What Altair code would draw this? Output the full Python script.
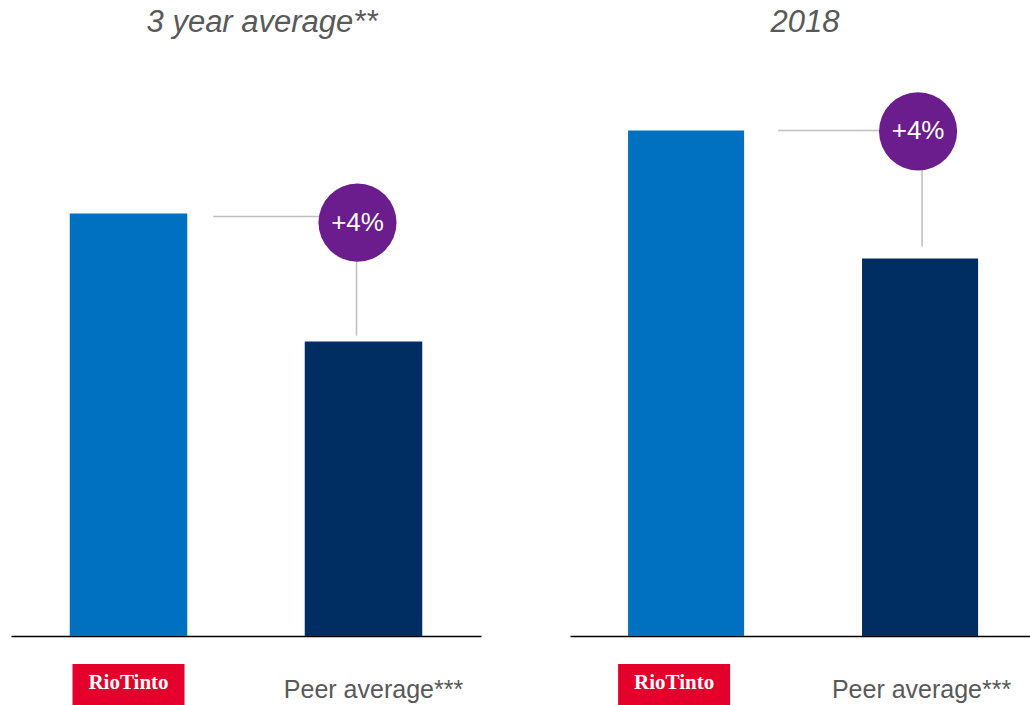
import altair as alt
import pandas as pd

# ---- data ----
panel_titles = ["3 year average**", "2018"]
categories = ["Rio Tinto", "Peer average***"]
rio_values = [13.2, 15.8]
peer_values = [9.2, 11.8]
delta_labels = ["+4%", "+4%"]

# ---- styling ----
RIO_BLUE = "#0070C0"
PEER_NAVY = "#002D62"
PURPLE = "#6B1D8E"
LOGO_RED = "#E4002B"
GREY_TEXT = "#595959"
CONNECTOR = "#BFBFBF"
FONT = "Liberation Sans"

H = 560
YMAX = 17.5

# per-panel layout tweaks (pixels)
widths = [470, 460]
band_pad_inner = [0.5, 0.504]
band_pad_outer = [0.25, 0.235]
band_align = [0.5, 0.528]
title_dx = [16, 5]
hline_dx = [26, 34]
hline_dy = [3, 0]
circle_dx = [-6, -2]
circle_dy = [9, 1]
vline_dx = [-7, 2]
vline_gap = [-6, -12]
logo_dx = [0, -12]
peer_label_dx = [10, 1.5]


def make_panel(i):
    w = widths[i]
    bars = pd.DataFrame({
        "cat": categories,
        "value": [rio_values[i], peer_values[i]],
    })
    ann = pd.DataFrame({
        "cat": [categories[0]],
        "cat2": [categories[1]],
        "peer": [categories[1]],
        "top": [rio_values[i]],
        "bottom": [peer_values[i]],
        "label": [delta_labels[i]],
    })
    labels = pd.DataFrame({"cat": categories, "label": ["RioTinto", categories[1]]})

    xscale = alt.Scale(domain=categories, paddingInner=band_pad_inner[i],
                       paddingOuter=band_pad_outer[i], align=band_align[i])
    yscale = alt.Scale(domain=[0, YMAX], nice=False, zero=True)
    xaxis = alt.Axis(labels=False, ticks=False, title=None, grid=False,
                     domainColor="black", domainWidth=1.5)

    bar_layer = alt.Chart(bars).mark_bar().encode(
        x=alt.X("cat:N", scale=xscale, axis=xaxis, sort=categories),
        y=alt.Y("value:Q", scale=yscale, axis=None),
        color=alt.Color("cat:N", scale=alt.Scale(domain=categories,
                                                  range=[RIO_BLUE, PEER_NAVY]),
                        legend=None),
    )

    hline = alt.Chart(ann).mark_rule(color=CONNECTOR, strokeWidth=1.5,
                                     xOffset=hline_dx[i],
                                     yOffset=hline_dy[i]).encode(
        x=alt.X("cat:N", scale=xscale, bandPosition=1, axis=xaxis),
        x2=alt.X2("cat2:N"),
        y=alt.Y("top:Q", scale=yscale, axis=None),
    )

    vline = alt.Chart(ann).mark_rule(color=CONNECTOR, strokeWidth=1.5,
                                     xOffset=vline_dx[i],
                                     y2Offset=vline_gap[i]).encode(
        x=alt.X("peer:N", scale=xscale, axis=xaxis),
        y=alt.Y("top:Q", scale=yscale, axis=None),
        y2=alt.Y2("bottom:Q"),
    )

    circle = alt.Chart(ann).mark_circle(size=6100, color=PURPLE, opacity=1,
                                        xOffset=circle_dx[i],
                                        yOffset=circle_dy[i]).encode(
        x=alt.X("peer:N", scale=xscale, axis=xaxis),
        y=alt.Y("top:Q", scale=yscale, axis=None),
    )

    circle_text = alt.Chart(ann).mark_text(color="white", fontSize=26, font=FONT,
                                           baseline="middle", align="center",
                                           dx=circle_dx[i],
                                           dy=circle_dy[i]).encode(
        x=alt.X("peer:N", scale=xscale, axis=xaxis),
        y=alt.Y("top:Q", scale=yscale, axis=None),
        text="label:N",
    )

    logo_box = alt.Chart(labels[labels.cat == categories[0]]).mark_bar(
        color=LOGO_RED, width=112, xOffset=logo_dx[i]).encode(
        x=alt.X("cat:N", scale=xscale, axis=xaxis),
        y=alt.value(H + 28),
        y2=alt.value(H + 69),
    )

    logo_text = alt.Chart(labels[labels.cat == categories[0]]).mark_text(
        color="white", font="Liberation Serif", fontSize=21, fontWeight="bold",
        align="center", baseline="alphabetic", dx=logo_dx[i]).encode(
        x=alt.X("cat:N", scale=xscale, axis=xaxis),
        y=alt.value(H + 53),
        text="label:N",
    )

    peer_text = alt.Chart(labels[labels.cat == categories[1]]).mark_text(
        color=GREY_TEXT, font=FONT, fontSize=25, align="center",
        baseline="alphabetic", dx=peer_label_dx[i]).encode(
        x=alt.X("cat:N", scale=xscale, axis=xaxis),
        y=alt.value(H + 62),
        text="label:N",
    )

    title = alt.Chart(pd.DataFrame({"t": [panel_titles[i]]})).mark_text(
        color=GREY_TEXT, font=FONT, fontSize=31, fontStyle="italic",
        align="center", baseline="alphabetic").encode(
        x=alt.value(w / 2 + title_dx[i]),
        y=alt.value(-44),
        text="t:N",
    )

    top_marker = alt.Chart(pd.DataFrame({"t": [0]})).mark_rule(
        strokeOpacity=0, color="white").encode(
        x=alt.value(0), y=alt.value(-76), y2=alt.value(-75),
    )

    return alt.layer(bar_layer, hline, vline, circle, circle_text,
                     logo_box, logo_text, peer_text, title, top_marker
                     ).properties(width=w, height=H)


chart = alt.hconcat(make_panel(0), make_panel(1), spacing=89).properties(
    padding={"left": 11, "top": 0, "right": 0, "bottom": 0}
).configure_view(stroke=None)

chart.save("out.html", embed_options={"renderer": "svg", "actions": False})
